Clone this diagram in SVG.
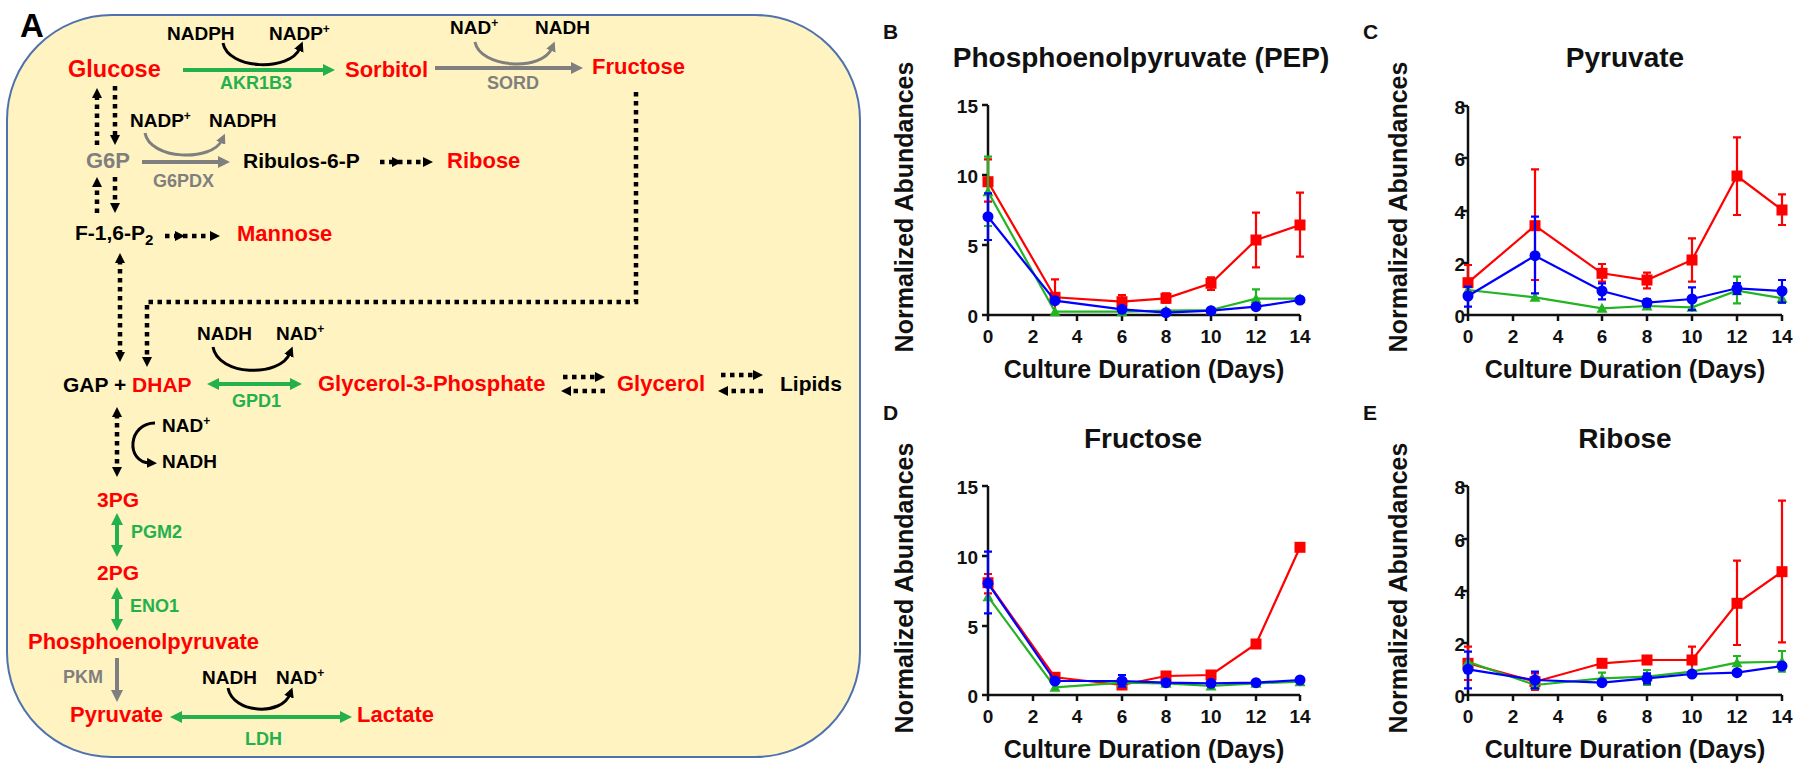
<svg xmlns="http://www.w3.org/2000/svg" xmlns:xlink="http://www.w3.org/1999/xlink" width="1800" height="772" viewBox="0 0 1800 772">
<style>
text{font-family:"Liberation Sans",Arial,sans-serif;font-weight:bold}
.red{fill:#FF0000}.blk{fill:#000}.grn{fill:#22B14C}.gry{fill:#7F7F7F}
.m{font-size:22px}.mb{font-size:21px}.cf{font-size:19px}.enz{font-size:18px}
.sup{font-size:12px}
.gl{stroke:#22B14C;stroke-width:4;fill:none}
.gyl{stroke:#7F7F7F;stroke-width:4;fill:none}
.cb{stroke:#000;stroke-width:3;fill:none}
.cg{stroke:#7F7F7F;stroke-width:3;fill:none}
.dot{stroke:#000;stroke-width:4.5;stroke-dasharray:4.5 4.5;fill:none}
.ax{stroke:#111;stroke-width:2.5;fill:none}
.tk{font-size:19px;fill:#111}
.at{font-size:25px;fill:#111}
.ti{font-size:28px;fill:#111}
.pl{font-size:21px;fill:#111}
.sr{stroke:#FF0000;stroke-width:2.2;fill:none}
.sg{stroke:#22B422;stroke-width:2.2;fill:none}
.sb{stroke:#0000FF;stroke-width:2.2;fill:none}
.fr{fill:#FF0000}.fg{fill:#22B422}.fb{fill:#0000FF}
</style>
<defs>
<marker id="mg" viewBox="0 0 12 12" refX="2" refY="6" markerWidth="12" markerHeight="12" markerUnits="userSpaceOnUse" orient="auto-start-reverse"><path d="M0,0L12,6L0,12z" fill="#22B14C"/></marker>
<marker id="mgy" viewBox="0 0 12 12" refX="2" refY="6" markerWidth="12" markerHeight="12" markerUnits="userSpaceOnUse" orient="auto-start-reverse"><path d="M0,0L12,6L0,12z" fill="#7F7F7F"/></marker>
<marker id="md" viewBox="0 0 10 10" refX="3" refY="5" markerWidth="10" markerHeight="10" markerUnits="userSpaceOnUse" orient="auto-start-reverse"><path d="M0,0L10,5L0,10z" fill="#000"/></marker>
<marker id="mc" viewBox="0 0 10 10" refX="3" refY="5" markerWidth="10" markerHeight="10" markerUnits="userSpaceOnUse" orient="auto"><path d="M0,0L10,5L0,10z" fill="#000"/></marker>
<marker id="mcg" viewBox="0 0 10 10" refX="3" refY="5" markerWidth="10" markerHeight="10" markerUnits="userSpaceOnUse" orient="auto"><path d="M0,0L10,5L0,10z" fill="#7F7F7F"/></marker>
<rect id="sq" x="-5.5" y="-5.5" width="11" height="11"/>
<circle id="ci" r="5.5"/>
<path id="tr" d="M0,-5.5L5.5,4.5L-5.5,4.5z"/>
</defs>
<rect width="1800" height="772" fill="#fff"/>

<!-- Panel A -->
<g id="panelA">
<rect x="7" y="15" width="853" height="742" rx="105" ry="105" fill="#FFF3C1" stroke="#4F72AE" stroke-width="2"/>
<text x="20" y="37" font-size="33" class="blk">A</text>
</g>

<g id="connectors">
<!-- green enzyme arrows -->
<path class="gl" d="M183,70H325" marker-end="url(#mg)"/>
<path class="gl" d="M217,384H292" marker-start="url(#mg)" marker-end="url(#mg)"/>
<path class="gl" d="M117,523V547" marker-start="url(#mg)" marker-end="url(#mg)"/>
<path class="gl" d="M117,597V621" marker-start="url(#mg)" marker-end="url(#mg)"/>
<path class="gl" d="M180,717H342" marker-start="url(#mg)" marker-end="url(#mg)"/>
<!-- gray arrows -->
<path class="gyl" d="M435,68H573" marker-end="url(#mgy)"/>
<path class="gyl" d="M142,162H220" marker-end="url(#mgy)"/>
<path class="gyl" d="M117,658V692" marker-end="url(#mgy)"/>
<!-- cofactor curves -->
<path class="cb" d="M223,43C228,70 290,72 300,48" marker-end="url(#mc)"/>
<path class="cg" d="M475,42C480,68 542,72 552,48" marker-end="url(#mcg)"/>
<path class="cg" d="M145,133C150,160 212,162 222,140" marker-end="url(#mcg)"/>
<path class="cb" d="M213,347C218,376 280,378 290,353" marker-end="url(#mc)"/>
<path class="cb" d="M155,423C128,423 125,462 150,463" marker-end="url(#mc)"/>
<path class="cb" d="M228,688C233,714 282,716 290,694" marker-end="url(#mc)"/>
<!-- dotted arrows -->
<path class="dot" d="M97,145V95" marker-end="url(#md)"/>
<path class="dot" d="M115,86V138" marker-end="url(#md)"/>
<path class="dot" d="M97,213V184" marker-end="url(#md)"/>
<path class="dot" d="M115,177V206" marker-end="url(#md)"/>
<path class="dot" d="M380,162L395,162L426,162" marker-mid="url(#md)" marker-end="url(#md)"/>
<path class="dot" d="M165,236L178,236L213,236" marker-mid="url(#md)" marker-end="url(#md)"/>
<path class="dot" d="M120,260V355" marker-start="url(#md)" marker-end="url(#md)"/>
<path class="dot" d="M636,92V302H147V360" marker-end="url(#md)"/>
<path class="dot" d="M117,414V470" marker-start="url(#md)" marker-end="url(#md)"/>
<path class="dot" d="M563,377H598" marker-end="url(#md)"/>
<path class="dot" d="M605,391H568" marker-end="url(#md)"/>
<path class="dot" d="M721,375H756" marker-end="url(#md)"/>
<path class="dot" d="M763,391H725" marker-end="url(#md)"/>
</g>

<g id="n-nadph1"><text x="167" y="40" class="cf blk">NADPH</text></g>
<g id="n-nadp1"><text x="269" y="40" class="cf blk">NADP<tspan class="sup" dy="-7">+</tspan></text></g>
<g id="n-glucose"><text x="68" y="77" font-size="23.5" class="red">Glucose</text></g>
<g id="e-akr1b3"><text x="220" y="89" class="enz grn">AKR1B3</text></g>
<g id="n-sorbitol"><text x="345" y="77" class="m red">Sorbitol</text></g>
<g id="n-nad1"><text x="450" y="34" class="cf blk">NAD<tspan class="sup" dy="-7">+</tspan></text></g>
<g id="n-nadh1"><text x="535" y="34" class="cf blk">NADH</text></g>
<g id="e-sord"><text x="487" y="89" class="enz gry">SORD</text></g>
<g id="n-fructose"><text x="592" y="74" class="m red">Fructose</text></g>
<g id="n-nadp2"><text x="130" y="127" class="cf blk">NADP<tspan class="sup" dy="-7">+</tspan></text></g>
<g id="n-nadph2"><text x="209" y="127" class="cf blk">NADPH</text></g>
<g id="n-g6p"><text x="86" y="168" class="m gry">G6P</text></g>
<g id="e-g6pdx"><text x="153" y="187" class="enz gry">G6PDX</text></g>
<g id="n-ribulos"><text x="243" y="168" class="mb blk">Ribulos-6-P</text></g>
<g id="n-ribose"><text x="447" y="168" class="m red">Ribose</text></g>
<g id="n-f16p2"><text x="75" y="240" class="mb blk">F-1,6-P<tspan font-size="15" dy="5">2</tspan></text></g>
<g id="n-mannose"><text x="237" y="241" class="m red">Mannose</text></g>
<g id="n-nadh2"><text x="197" y="340" class="cf blk">NADH</text></g>
<g id="n-nad2"><text x="276" y="340" class="cf blk">NAD<tspan class="sup" dy="-7">+</tspan></text></g>
<g id="n-gapdhap"><text x="63" y="392" class="mb blk">GAP + <tspan class="red">DHAP</tspan></text></g>
<g id="e-gpd1"><text x="232" y="407" class="enz grn">GPD1</text></g>
<g id="n-g3p"><text x="318" y="391" class="m red">Glycerol-3-Phosphate</text></g>
<g id="n-glycerol"><text x="617" y="391" class="m red">Glycerol</text></g>
<g id="n-lipids"><text x="780" y="391" class="mb blk">Lipids</text></g>
<g id="n-nad3"><text x="162" y="432" class="cf blk">NAD<tspan class="sup" dy="-7">+</tspan></text></g>
<g id="n-nadh3"><text x="162" y="468" class="cf blk">NADH</text></g>
<g id="n-3pg"><text x="97" y="507" class="mb red">3PG</text></g>
<g id="e-pgm2"><text x="131" y="538" class="enz grn">PGM2</text></g>
<g id="n-2pg"><text x="97" y="580" class="mb red">2PG</text></g>
<g id="e-eno1"><text x="130" y="612" class="enz grn">ENO1</text></g>
<g id="n-pep"><text x="28" y="649" class="m red">Phosphoenolpyruvate</text></g>
<g id="e-pkm"><text x="63" y="683" class="enz gry">PKM</text></g>
<g id="n-nadh4"><text x="202" y="684" class="cf blk">NADH</text></g>
<g id="n-nad4"><text x="276" y="684" class="cf blk">NAD<tspan class="sup" dy="-7">+</tspan></text></g>
<g id="n-pyruvate"><text x="70" y="722" class="m red">Pyruvate</text></g>
<g id="n-lactate"><text x="357" y="722" class="m red">Lactate</text></g>
<g id="e-ldh"><text x="245" y="745" class="enz grn">LDH</text></g>

<!-- Chart B -->
<g id="chartB">
<text x="883" y="39" class="pl">B</text>
<text x="1141" y="67" text-anchor="middle" class="ti">Phosphoenolpyruvate (PEP)</text>
<text transform="translate(913,207) rotate(-90)" text-anchor="middle" class="at">Normalized Abundances</text>
<text x="1144" y="378" text-anchor="middle" class="at">Culture Duration (Days)</text>
<path class="ax" d="M988,105V315H1300M982,105H988M982,175H988M982,245H988M982,315H988M988,315V321M1033,315V321M1077,315V321M1122,315V321M1166,315V321M1211,315V321M1256,315V321M1300,315V321"/>
<g class="tk" text-anchor="end"><text x="978" y="113">15</text><text x="978" y="183">10</text><text x="978" y="253">5</text><text x="978" y="323">0</text></g>
<g class="tk" text-anchor="middle"><text x="988" y="343">0</text><text x="1033" y="343">2</text><text x="1077" y="343">4</text><text x="1122" y="343">6</text><text x="1166" y="343">8</text><text x="1211" y="343">10</text><text x="1256" y="343">12</text><text x="1300" y="343">14</text></g>
<polyline class="sr" points="988,181.7 1055,297.3 1122,301.7 1166,298.3 1211,283.3 1256,240 1300,225"/>
<path class="sr" d="M988,159.3V201.7M984,159.3H992M984,201.7H992M1055,279.3V315M1051,279.3H1059M1122,295V308.3M1118,295H1126M1118,308.3H1126M1166,293.3V302.7M1162,293.3H1170M1162,302.7H1170M1211,277.3V290M1207,277.3H1215M1207,290H1215M1256,212.7V267.3M1252,212.7H1260M1252,267.3H1260M1300,192.7V256.7M1296,192.7H1304M1296,256.7H1304"/>
<g class="fr"><use href="#sq" x="988" y="181.7"/><use href="#sq" x="1055" y="297.3"/><use href="#sq" x="1122" y="301.7"/><use href="#sq" x="1166" y="298.3"/><use href="#sq" x="1211" y="283.3"/><use href="#sq" x="1256" y="240"/><use href="#sq" x="1300" y="225"/></g>
<polyline class="sg" points="988,191.7 1055,311.7 1122,311.7 1166,310.7 1211,310 1256,298.7 1300,298.7"/>
<path class="sg" d="M988,156.7V226M984,156.7H992M984,226H992M1256,289.3V308.3M1252,289.3H1260M1252,308.3H1260"/>
<g class="fg"><use href="#tr" x="988" y="191.7"/><use href="#tr" x="1055" y="311.7"/><use href="#tr" x="1122" y="311.7"/><use href="#tr" x="1166" y="310.7"/><use href="#tr" x="1211" y="310"/><use href="#tr" x="1256" y="298.7"/><use href="#tr" x="1300" y="298.7"/></g>
<polyline class="sb" points="988,216.7 1055,300.7 1122,309.3 1166,312.7 1211,310.7 1256,306.7 1300,300"/>
<path class="sb" d="M988,193.3V240M984,193.3H992M984,240H992"/>
<g class="fb"><use href="#ci" x="988" y="216.7"/><use href="#ci" x="1055" y="300.7"/><use href="#ci" x="1122" y="309.3"/><use href="#ci" x="1166" y="312.7"/><use href="#ci" x="1211" y="310.7"/><use href="#ci" x="1256" y="306.7"/><use href="#ci" x="1300" y="300"/></g>
</g>

<!-- Chart C -->
<g id="chartC">
<text x="1363" y="39" class="pl">C</text>
<text x="1625" y="67" text-anchor="middle" class="ti">Pyruvate</text>
<text transform="translate(1407,207) rotate(-90)" text-anchor="middle" class="at">Normalized Abundances</text>
<text x="1625" y="378" text-anchor="middle" class="at">Culture Duration (Days)</text>
<path class="ax" d="M1468,106V315H1782M1462,106H1468M1462,158H1468M1462,211H1468M1462,263H1468M1462,315H1468M1468,315V321M1513,315V321M1558,315V321M1602,315V321M1647,315V321M1692,315V321M1737,315V321M1782,315V321"/>
<g class="tk" text-anchor="end"><text x="1465" y="114">8</text><text x="1465" y="166">6</text><text x="1465" y="219">4</text><text x="1465" y="271">2</text><text x="1465" y="323">0</text></g>
<g class="tk" text-anchor="middle"><text x="1468" y="343">0</text><text x="1513" y="343">2</text><text x="1558" y="343">4</text><text x="1602" y="343">6</text><text x="1647" y="343">8</text><text x="1692" y="343">10</text><text x="1737" y="343">12</text><text x="1782" y="343">14</text></g>
<polyline class="sr" points="1468,282.7 1535,225.7 1602,273.3 1647,280 1692,260 1737,176 1782,210"/>
<path class="sr" d="M1468,265V293.3M1464,265H1472M1464,293.3H1472M1535,169.3V280M1531,169.3H1539M1531,280H1539M1602,264V281.7M1598,264H1606M1598,281.7H1606M1647,272.7V288.3M1643,272.7H1651M1643,288.3H1651M1692,238.3V281.7M1688,238.3H1696M1688,281.7H1696M1737,137.3V215M1733,137.3H1741M1733,215H1741M1782,194.3V225M1778,194.3H1786M1778,225H1786"/>
<g class="fr"><use href="#sq" x="1468" y="282.7"/><use href="#sq" x="1535" y="225.7"/><use href="#sq" x="1602" y="273.3"/><use href="#sq" x="1647" y="280"/><use href="#sq" x="1692" y="260"/><use href="#sq" x="1737" y="176"/><use href="#sq" x="1782" y="210"/></g>
<polyline class="sg" points="1468,290 1535,297.3 1602,308.3 1647,306 1692,307.3 1737,290.7 1782,298.3"/>
<path class="sg" d="M1692,302V312M1688,302H1696M1737,276.7V303.3M1733,276.7H1741M1733,303.3H1741M1782,294V302.7M1778,294H1786M1778,302.7H1786"/>
<g class="fg"><use href="#tr" x="1468" y="290"/><use href="#tr" x="1535" y="297.3"/><use href="#tr" x="1602" y="308.3"/><use href="#tr" x="1647" y="306"/><use href="#tr" x="1692" y="307.3"/><use href="#tr" x="1737" y="290.7"/><use href="#tr" x="1782" y="298.3"/></g>
<polyline class="sb" points="1468,296 1535,255.7 1602,291 1647,302.7 1692,299 1737,288.3 1782,291"/>
<path class="sb" d="M1468,286.7V306.7M1464,286.7H1472M1464,306.7H1472M1535,216.7V293.3M1531,216.7H1539M1531,293.3H1539M1602,283.3V299.3M1598,283.3H1606M1598,299.3H1606M1647,299.3V306.7M1643,299.3H1651M1643,306.7H1651M1692,287.3V310M1688,287.3H1696M1688,310H1696M1737,283V294M1733,283H1741M1733,294H1741M1782,280V302.7M1778,280H1786M1778,302.7H1786"/>
<g class="fb"><use href="#ci" x="1468" y="296"/><use href="#ci" x="1535" y="255.7"/><use href="#ci" x="1602" y="291"/><use href="#ci" x="1647" y="302.7"/><use href="#ci" x="1692" y="299"/><use href="#ci" x="1737" y="288.3"/><use href="#ci" x="1782" y="291"/></g>
</g>

<!-- Chart D -->
<g id="chartD">
<text x="883" y="420" class="pl">D</text>
<text x="1143" y="448" text-anchor="middle" class="ti">Fructose</text>
<text transform="translate(913,588) rotate(-90)" text-anchor="middle" class="at">Normalized Abundances</text>
<text x="1144" y="758" text-anchor="middle" class="at">Culture Duration (Days)</text>
<path class="ax" d="M988,486V695H1300M982,486H988M982,556H988M982,626H988M982,695H988M988,695V701M1033,695V701M1077,695V701M1122,695V701M1166,695V701M1211,695V701M1256,695V701M1300,695V701"/>
<g class="tk" text-anchor="end"><text x="978" y="494">15</text><text x="978" y="564">10</text><text x="978" y="634">5</text><text x="978" y="703">0</text></g>
<g class="tk" text-anchor="middle"><text x="988" y="723">0</text><text x="1033" y="723">2</text><text x="1077" y="723">4</text><text x="1122" y="723">6</text><text x="1166" y="723">8</text><text x="1211" y="723">10</text><text x="1256" y="723">12</text><text x="1300" y="723">14</text></g>
<polyline class="sr" points="988,582.7 1055,677.3 1122,685 1166,676 1211,675 1256,644 1300,547.3"/>
<path class="sr" d="M988,574V593.3M984,574H992M984,593.3H992"/>
<g class="fr"><use href="#sq" x="988" y="582.7"/><use href="#sq" x="1055" y="677.3"/><use href="#sq" x="1122" y="685"/><use href="#sq" x="1166" y="676"/><use href="#sq" x="1211" y="675"/><use href="#sq" x="1256" y="644"/><use href="#sq" x="1300" y="547.3"/></g>
<polyline class="sg" points="988,596.7 1055,687.3 1122,682.7 1166,683.3 1211,686 1256,683.3 1300,681.7"/>
<g class="fg"><use href="#tr" x="988" y="596.7"/><use href="#tr" x="1055" y="687.3"/><use href="#tr" x="1122" y="682.7"/><use href="#tr" x="1166" y="683.3"/><use href="#tr" x="1211" y="686"/><use href="#tr" x="1256" y="683.3"/><use href="#tr" x="1300" y="681.7"/></g>
<polyline class="sb" points="988,583.3 1055,681 1122,681 1166,682.7 1211,683.3 1256,682.7 1300,680"/>
<path class="sb" d="M988,551.7V613.3M984,551.7H992M984,613.3H992M1122,675V686.7M1118,675H1126M1118,686.7H1126"/>
<g class="fb"><use href="#ci" x="988" y="583.3"/><use href="#ci" x="1055" y="681"/><use href="#ci" x="1122" y="681"/><use href="#ci" x="1166" y="682.7"/><use href="#ci" x="1211" y="683.3"/><use href="#ci" x="1256" y="682.7"/><use href="#ci" x="1300" y="680"/></g>
</g>

<!-- Chart E -->
<g id="chartE">
<text x="1363" y="420" class="pl">E</text>
<text x="1625" y="448" text-anchor="middle" class="ti">Ribose</text>
<text transform="translate(1407,588) rotate(-90)" text-anchor="middle" class="at">Normalized Abundances</text>
<text x="1625" y="758" text-anchor="middle" class="at">Culture Duration (Days)</text>
<path class="ax" d="M1468,486V695H1782M1462,486H1468M1462,539H1468M1462,591H1468M1462,643H1468M1462,695H1468M1468,695V701M1513,695V701M1558,695V701M1602,695V701M1647,695V701M1692,695V701M1737,695V701M1782,695V701"/>
<g class="tk" text-anchor="end"><text x="1465" y="494">8</text><text x="1465" y="547">6</text><text x="1465" y="599">4</text><text x="1465" y="651">2</text><text x="1465" y="703">0</text></g>
<g class="tk" text-anchor="middle"><text x="1468" y="723">0</text><text x="1513" y="723">2</text><text x="1558" y="723">4</text><text x="1602" y="723">6</text><text x="1647" y="723">8</text><text x="1692" y="723">10</text><text x="1737" y="723">12</text><text x="1782" y="723">14</text></g>
<polyline class="sr" points="1468,663.3 1535,681.7 1602,663.3 1647,660 1692,660 1737,603.3 1782,571.7"/>
<path class="sr" d="M1468,646.7V680M1464,646.7H1472M1464,680H1472M1535,673.3V690M1531,673.3H1539M1531,690H1539M1692,646.7V673.3M1688,646.7H1696M1688,673.3H1696M1737,560.7V645M1733,560.7H1741M1733,645H1741M1782,500.7V642.3M1778,500.7H1786M1778,642.3H1786"/>
<g class="fr"><use href="#sq" x="1468" y="663.3"/><use href="#sq" x="1535" y="681.7"/><use href="#sq" x="1602" y="663.3"/><use href="#sq" x="1647" y="660"/><use href="#sq" x="1692" y="660"/><use href="#sq" x="1737" y="603.3"/><use href="#sq" x="1782" y="571.7"/></g>
<polyline class="sg" points="1468,661.7 1535,685 1602,678.3 1647,676.7 1692,671.7 1737,662.7 1782,661.7"/>
<path class="sg" d="M1602,672.7V684M1598,672.7H1606M1598,684H1606M1647,670V685M1643,670H1651M1643,685H1651M1737,656V670M1733,656H1741M1733,670H1741M1782,651V671.7M1778,651H1786M1778,671.7H1786"/>
<g class="fg"><use href="#tr" x="1468" y="661.7"/><use href="#tr" x="1535" y="685"/><use href="#tr" x="1602" y="678.3"/><use href="#tr" x="1647" y="676.7"/><use href="#tr" x="1692" y="671.7"/><use href="#tr" x="1737" y="662.7"/><use href="#tr" x="1782" y="661.7"/></g>
<polyline class="sb" points="1468,669.3 1535,680 1602,682.7 1647,678.3 1692,674 1737,672.7 1782,666"/>
<path class="sb" d="M1468,651.7V688.3M1464,651.7H1472M1464,688.3H1472M1535,671.7V688.3M1531,671.7H1539M1531,688.3H1539M1647,673.3V683.3M1643,673.3H1651M1643,683.3H1651"/>
<g class="fb"><use href="#ci" x="1468" y="669.3"/><use href="#ci" x="1535" y="680"/><use href="#ci" x="1602" y="682.7"/><use href="#ci" x="1647" y="678.3"/><use href="#ci" x="1692" y="674"/><use href="#ci" x="1737" y="672.7"/><use href="#ci" x="1782" y="666"/></g>
</g>
</svg>
